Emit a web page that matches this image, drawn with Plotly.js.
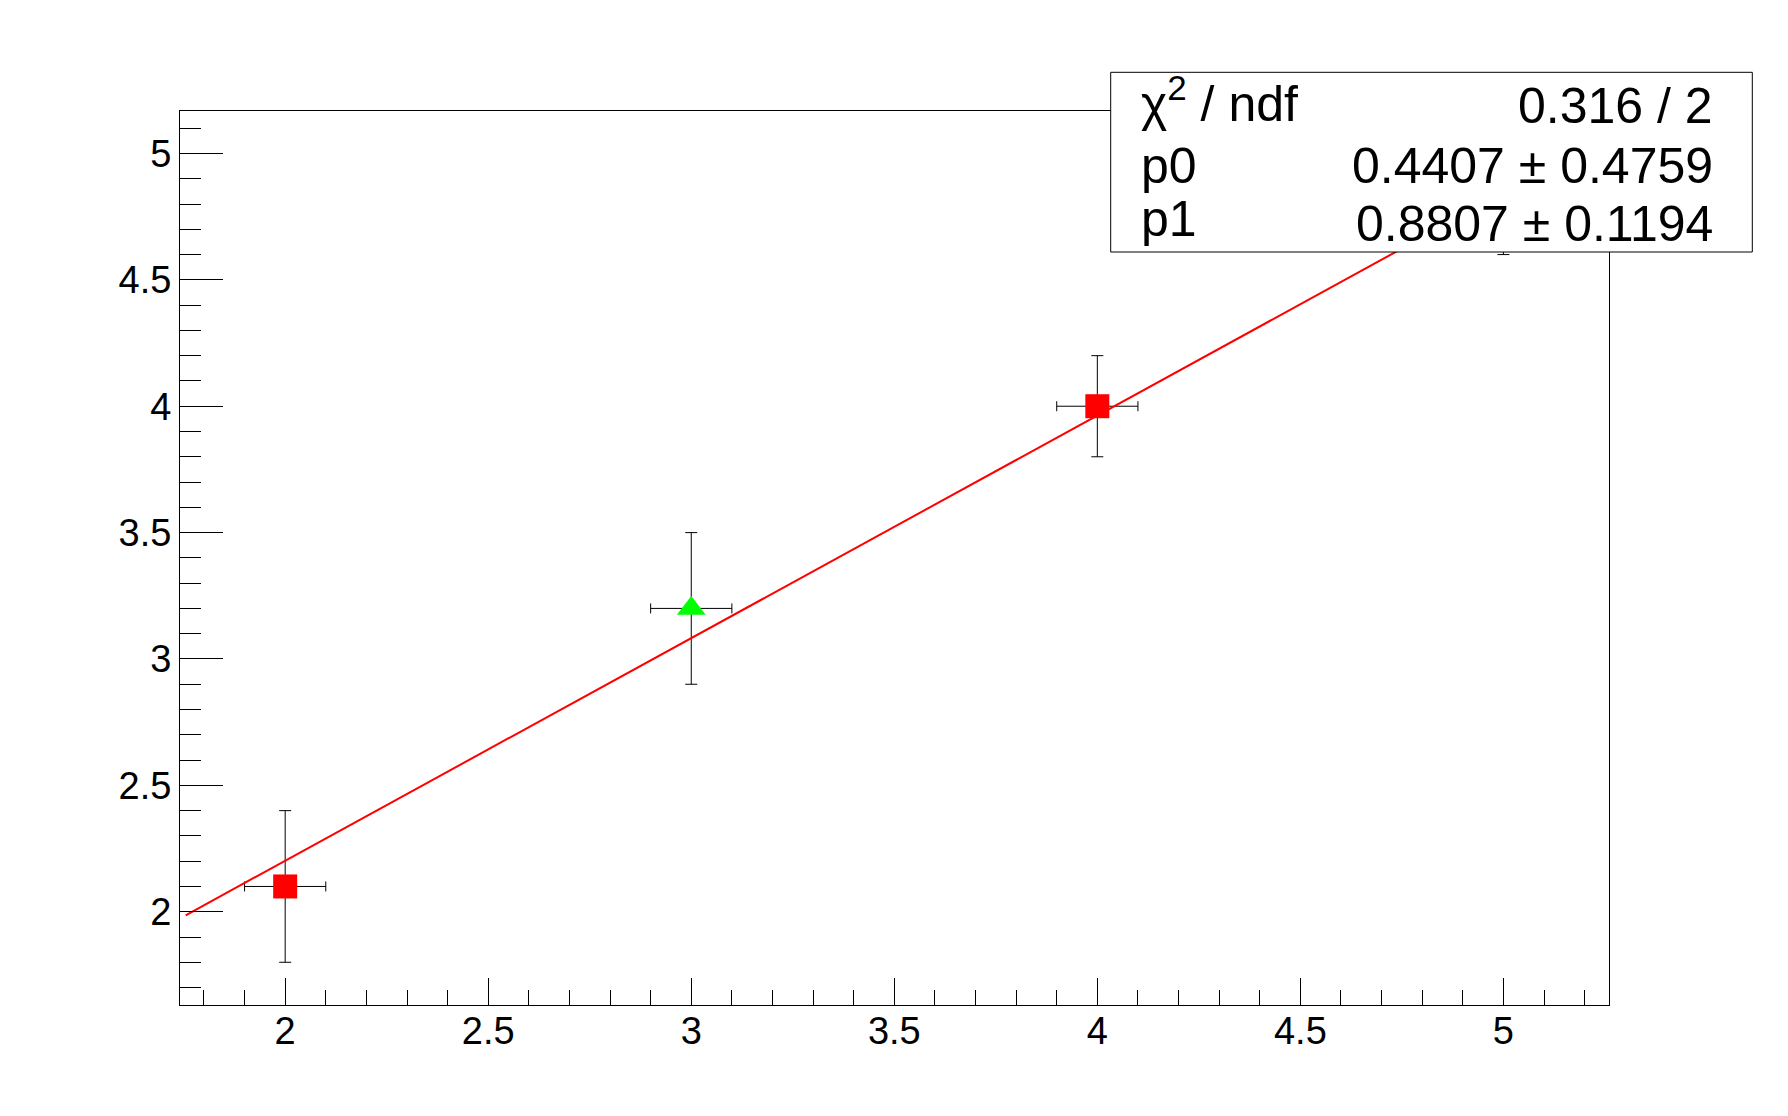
<!DOCTYPE html>
<html>
<head>
<meta charset="utf-8">
<script src="https://cdn.plot.ly/plotly-3.0.1.min.js"></script>
<style>
  html, body { margin: 0; padding: 0; background: #fff; }
  #graph { width: 1788px; height: 1116px; }
</style>
</head>
<body>
<div id="graph"></div>
<script>
// measured points of the graph (x, y and their errors)
const pointX = [2, 3, 4, 5];
const pointY = [2.1, 3.2, 4.0, 4.8];
const errX = [0.1, 0.1, 0.1, 0.1];
const errY = [0.3, 0.3, 0.2, 0.2];
const pointSymbols = ['square', 'triangle-up', 'square', 'triangle-up'];
const pointColors = ['#ff0000', '#00ff00', '#ff0000', '#00ff00'];

// fitted line, read at the two ends of the drawn range
const fitX = [1.755, 5.26];
const fitY = [1.986, 5.073];

// stat box rows
const statLabels = ['χ<sup>2</sup> / ndf', 'p0', 'p1'];
const statValues = ['0.316 / 2', '0.4407 ± 0.4759', '0.8807 ± 0.1194'];

const W = 1788, H = 1116;
const M = {l: 180, r: 179, t: 111, b: 111};
const FONT = 'Liberation Sans, Arial, Helvetica, sans-serif';

// pixel -> paper helpers for the stat box
function px(x){ return (x - M.l) / (W - M.l - M.r); }
function py(y){ return (H - M.b - y) / (H - M.t - M.b); }

const data = [
    {
        x: pointX,
        y: pointY,
        type: 'scatter',
        mode: 'markers',
        marker: {
            symbol: pointSymbols,
            color: pointColors,
            opacity: 1,
            size: pointSymbols.map((s)=>{ return s == 'square' ? 24 : 25 }),
            line: {width: 0}
        },
        error_x: {type: 'data', array: errX, visible: true, color: '#000', thickness: 1, width: 5},
        error_y: {type: 'data', array: errY, visible: true, color: '#000', thickness: 1, width: 6},
        showlegend: false
    },
    {
        x: fitX,
        y: fitY,
        type: 'scatter',
        mode: 'lines',
        line: {color: '#ff0000', width: 2},
        showlegend: false
    }
];

const axisCommon = {
    showline: true,
    mirror: true,
    linecolor: '#000',
    linewidth: 1,
    showgrid: false,
    zeroline: false,
    ticks: 'inside',
    tickwidth: 1,
    tickcolor: '#000',
    tickmode: 'linear',
    dtick: 0.5,
    tickfont: {family: FONT, size: 38, color: '#000'}
};

const layout = {
    width: W,
    height: H,
    margin: M,
    paper_bgcolor: '#fff',
    plot_bgcolor: '#fff',
    hovermode: false,
    xaxis: Object.assign({}, axisCommon, {
        range: [1.741, 5.26],
        tick0: 2,
        ticklen: 27,
        ticklabelstandoff: -8,
        minor: {dtick: 0.1, tick0: 2, ticks: 'inside', ticklen: 15, tickwidth: 1, tickcolor: '#000', showgrid: false}
    }),
    yaxis: Object.assign({}, axisCommon, {
        range: [1.631, 5.168],
        tick0: 2,
        ticklen: 43,
        minor: {dtick: 0.1, tick0: 2, ticks: 'inside', ticklen: 21, tickwidth: 1, tickcolor: '#000', showgrid: false}
    }),
    shapes: [
        {
            type: 'rect', xref: 'paper', yref: 'paper', layer: 'above',
            x0: px(1110.7), x1: px(1752.3), y0: py(252), y1: py(72.3),
            fillcolor: '#fff', line: {color: '#000', width: 1}
        }
    ],
    annotations: []
};

// left column baselines and right column baselines (pixels)
const leftBase = [117.7, 183.3, 236.7];
const rightBase = [123.3, 183.3, 241.7];
const statSize = 50;
statLabels.forEach((label, i)=>{
    layout.annotations.push({
        xref: 'paper', yref: 'paper',
        x: px(1140), y: py(leftBase[i] - statSize * 0.35),
        xanchor: 'left', yanchor: 'middle',
        text: label, showarrow: false, borderpad: 0,
        font: {family: FONT, size: statSize, color: '#000'}
    });
    layout.annotations.push({
        xref: 'paper', yref: 'paper',
        x: px(1714), y: py(rightBase[i] - statSize * 0.35),
        xanchor: 'right', yanchor: 'middle',
        text: statValues[i], showarrow: false, borderpad: 0,
        font: {family: FONT, size: statSize, color: '#000'}
    });
});

Plotly.newPlot('graph', data, layout, {displayModeBar: false, staticPlot: true});
</script>
</body>
</html>
